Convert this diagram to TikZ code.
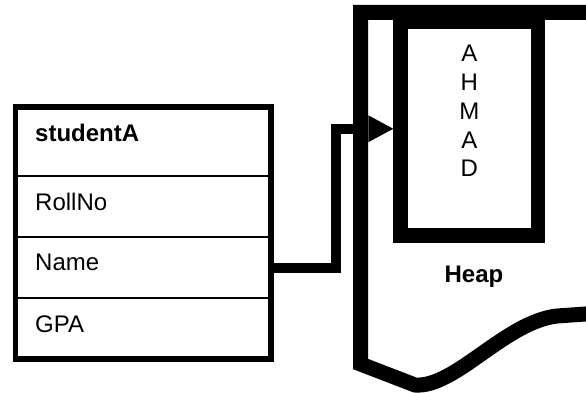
\documentclass[tikz,border=0pt]{standalone}
\usepackage{fontspec}
\setmainfont{Liberation Sans}
\usetikzlibrary{arrows.meta,calc,positioning}
\definecolor{Ink}{HTML}{000000}
\definecolor{Paper}{HTML}{FFFFFF}
\tikzset{
  field/.style={
    draw=Ink, line width=2pt, fill=Paper, inner sep=0pt, outer sep=0pt,
    minimum width=255.5pt, minimum height=61pt
  },
  fieldtext/.style={anchor=base west, inner sep=0pt, font=\fontsize{24}{28}\selectfont},
  frame/.style={draw=Ink, line width=5.5pt},
  strbox/.style={
    draw=Ink, line width=14.5pt, fill=Paper,
    minimum width=137.5pt, minimum height=213.5pt
  },
  letter/.style={anchor=base, inner sep=0pt, font=\fontsize{24}{28}\selectfont},
  heapline/.style={draw=Ink, line width=15pt},
  ptr/.style={-{Triangle[length=25pt,width=27pt,line width=0pt]}, draw=Ink, line width=10pt}
}
\begin{document}
\begin{tikzpicture}[x=1pt,y=-1pt,node distance=0pt]
        \useasboundingbox (0,0) rectangle (586,393);
        \clip (0,0) rectangle (586,393);
        % student record
        \node[field,anchor=north west,minimum height=69pt] (stu) at (15.5,107) {};
        \node[field,below=of stu] (roll) {};
        \node[field,below=of roll] (name) {};
        \node[field,below=of name] (gpa) {};
        \draw[frame] (stu.north west) rectangle (gpa.south east);
        \node[fieldtext,font=\fontsize{24}{28}\selectfont\bfseries] (stutext)
          at ([xshift=19.5pt,yshift=-35pt]stu.north west) {studentA};
        \node[fieldtext] (rolltext) at ([xshift=19.5pt,yshift=-34pt]roll.north west) {RollNo};
        \node[fieldtext] (nametext) at ([xshift=19.5pt,yshift=-33pt]name.north west) {Name};
        \node[fieldtext] (gpatext) at ([xshift=19.5pt,yshift=-34pt]gpa.north west) {GPA};
        % heap
        \draw[heapline] (600,12.5) -- (360.5,12.5) -- (360.5,364) -- (415,385)
          .. controls (455,388) and (505,322) .. (557,316) -- (600,313);
        \node[strbox] (str) at (469.25,128.75) {};
        \foreach \ch [count=\i from 0] in {A,H,M,A,D}
          \node[letter] (chr\i) at ({469.25},{62+28.7*\i}) {\ch};
        \node[letter,font=\fontsize{24}{28}\selectfont\bfseries] (heaplbl) at (474,282) {Heap};
        % pointer
        \draw[ptr] (name.east) -| ([xshift=-57pt]str.west) -- (str.west);
      \end{tikzpicture}
\end{document}
